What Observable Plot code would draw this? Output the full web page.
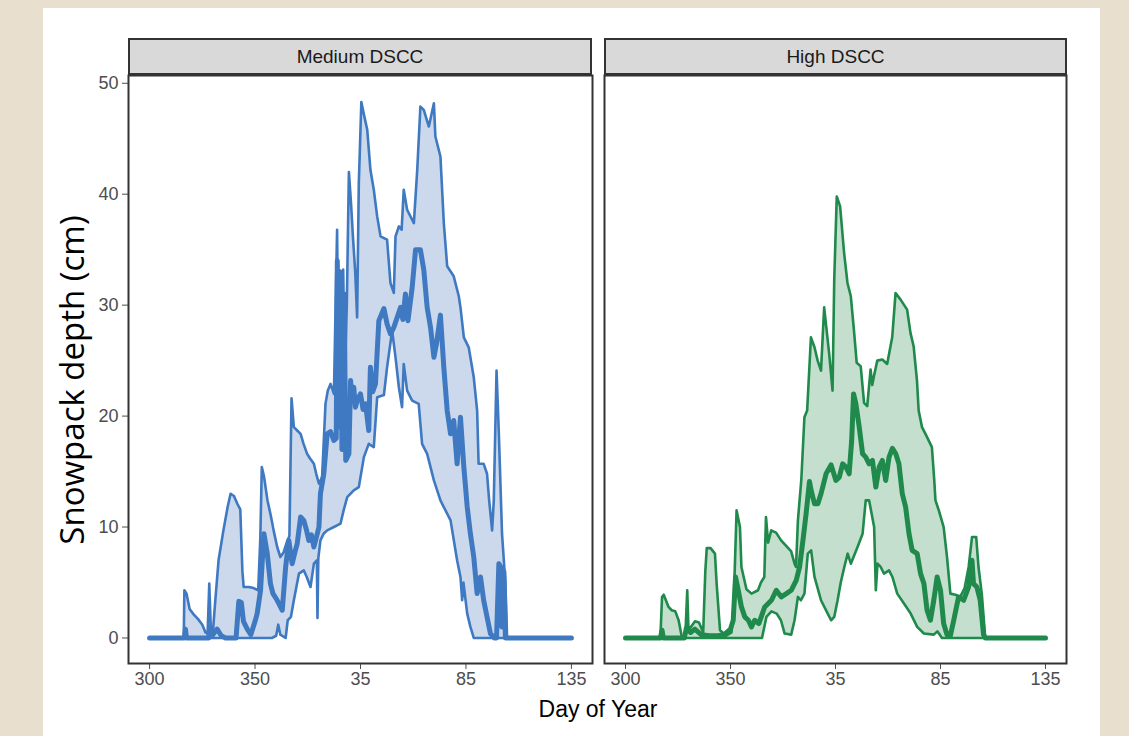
<!DOCTYPE html>
<html>
<head>
<meta charset="utf-8">
<script src="https://cdn.jsdelivr.net/npm/d3@7"></script>
<script src="https://cdn.jsdelivr.net/npm/@observablehq/plot@0.6"></script>
<style>
  html, body { margin: 0; padding: 0; background: #e9dfcf; width: 1129px; height: 736px; overflow: hidden; }
  #card { position: absolute; left: 43px; top: 8px; width: 1057px; height: 740px; background: #fff; }
  .plot { position: absolute; top: 70px; }
  .strip { position: absolute; top: 38px; height: 37px; background: #d9d9d9; border: 2px solid #333; box-sizing: border-box;
           font-family: "Liberation Sans", Arial, sans-serif; font-size: 19px; color: #1a1a1a; text-align: center; line-height: 34px; }
  #ytitle { position: absolute; left: 71px; top: 380px; transform: translate(-50%, -50%) rotate(-90deg); white-space: nowrap;
            font-family: "Open Sans", sans-serif; font-size: 33px; color: #000; }
  #xtitle { position: absolute; left: 598px; top: 709px; transform: translate(-50%, -50%); white-space: nowrap;
            font-family: "Liberation Sans", Arial, sans-serif; font-size: 23px; color: #000; }
</style>
</head>
<body>
<div id="card"></div>
<div class="strip" style="left:128px;width:464px;">Medium DSCC</div>
<div class="strip" style="left:604px;width:463px;">High DSCC</div>
<div id="left" class="plot" style="left:88px;"></div>
<div id="right" class="plot" style="left:599px;"></div>
<div id="ytitle">Snowpack depth (cm)</div>
<div id="xtitle">Day of Year</div>
<script>
// x = days since day-of-year 300 (season day); y = snowpack depth (cm)
const panels = ["Medium DSCC", "High DSCC"];
const tickValues = [0, 50, 100, 150, 200];
const tickLabels = ["300", "350", "35", "85", "135"];
const yTicks = [0, 10, 20, 30, 40, 50];

// Medium DSCC: upper envelope, lower envelope, central (thick) line
const medUpper = [[0,0],[16.2,0],[16.5,4.3],[17.5,4.0],[19,2.6],[21,2.1],[23,1.7],[25,1.2],[26.5,0.5],[27.5,0.4],[28.3,4.9],[29,1.0],[30,0.5],[31,3.0],[32.7,7.0],[35,9.7],[37,11.8],[38.4,13.0],[40,12.8],[41.6,12.1],[43,11.6],[44,6],[44.6,4.6],[47,4.6],[49.3,4.5],[51.5,4.3],[52.5,9],[53.2,15.4],[54.2,14.6],[55.9,12.4],[57.5,11],[58.8,9.7],[60.5,8.2],[62,7.3],[63.5,7.7],[65,8.6],[66.3,9.2],[67.3,21.6],[68.4,19.0],[70,18.7],[71.6,18.4],[73,17.5],[74.7,16.6],[76,16.2],[77.9,15.7],[79,14.8],[80.3,13.9],[81.8,14.5],[83.4,21.1],[84.5,22.3],[85.8,22.9],[87.4,22.0],[88.2,30],[88.9,36.8],[89.5,26],[90.2,33],[91,25],[91.8,33.2],[92.5,23],[93.5,30],[94.5,42.0],[95.5,39.2],[96.5,35.9],[97.5,33],[98.4,28.9],[99.2,41],[100.4,48.3],[101.5,47.3],[103.2,45.8],[104.7,42.2],[106.3,40.4],[107.9,38],[109.5,36.2],[112.6,35.9],[114.2,32],[115.8,31.1],[116.6,36.2],[118.2,37.1],[119.5,36.8],[120.5,40.4],[122.1,38.6],[125.3,37.4],[126.9,42.2],[128.4,47.9],[130,47.6],[132.4,46.1],[134.8,48.2],[135.5,45.2],[137.9,43.4],[139.5,37.4],[141.1,33.5],[144.2,32.6],[146.6,30.8],[147.4,29.8],[149,27.1],[151.3,26.2],[153.7,23.5],[155.3,20.5],[156,15.7],[158.4,15.7],[160,14.8],[161,12.4],[162.4,9.7],[163.2,12.4],[164.5,24.1],[165.6,18.4],[167.1,9.4],[168.7,4.9],[169.5,0],[200,0]];
const medLower = [[0,0],[58,0],[60,0.2],[61,1.2],[62,0.3],[64.5,0],[65.5,1.6],[67,1.9],[68.4,3.4],[70.8,5.8],[73.1,6.1],[74.5,5.5],[76.3,4.6],[77.9,6.7],[79.3,7.0],[79.6,1.8],[80,7.2],[81,8.8],[82.5,9.4],[84.2,9.7],[87.4,10.0],[90.5,10.3],[92,11.5],[93.7,12.7],[96.8,13.3],[99.2,13.6],[101.6,16.3],[103.9,17.5],[106.3,17.2],[107.9,21.7],[111.1,21.9],[112.6,24.4],[115,27.7],[116.6,25.3],[118.2,22.6],[119.7,20.8],[120.5,24.7],[122.1,22.3],[124.5,21.4],[127.6,21.1],[129.2,17.5],[131.6,16.6],[134.8,14.2],[137.9,12.4],[139.5,11.8],[142.7,10.6],[145.8,7.0],[147.4,5.5],[148.2,3.4],[148.8,5.0],[150.6,2.2],[152.1,1.0],[153.7,0],[200,0]];
const medMid = [[0,0],[16.5,0],[17,0.8],[17.5,0],[28,0],[28.5,1.0],[30,0.3],[32,0.8],[34,0.2],[36,0],[41,0],[42.3,3.3],[43.5,3.2],[44.5,1.5],[46.3,0.8],[48,0.3],[50,1.5],[51,2.2],[52.6,4.3],[54.2,9.4],[55,8.5],[55.8,7.6],[57.3,4.9],[58.5,4],[60.5,3.4],[62.9,2.5],[64.5,6.4],[66,8.8],[67.6,6.7],[69,7.8],[70,8.5],[71.6,10.9],[73.1,10.6],[74.3,9.8],[75.5,8.8],[76.7,9.3],[77.9,8.2],[80.3,10.0],[81,13.0],[82.6,14.8],[84.2,18.4],[85.8,18.6],[87.4,17.8],[88.5,18],[89,34],[89.6,19],[90.4,33],[91.2,17],[92.3,31],[93,16],[94.5,16.6],[95.3,23.2],[96,21.5],[96.8,22.6],[97.6,20.8],[98.4,21.4],[100,22],[101.2,20.6],[102.4,21.1],[103.9,18.7],[104.7,24.4],[105.8,22.2],[107.1,22.9],[108.7,28.6],[111.1,29.7],[112.6,28.3],[114.2,27.4],[115.8,28.0],[117.4,28.9],[119,29.8],[120.1,28.7],[121.3,31.0],[122.5,28.6],[124.5,31.6],[126.1,35.0],[128.4,35.0],[130,33.2],[131.6,29.8],[133.2,28.0],[134.8,25.3],[136,26.5],[137.9,29.1],[139.5,24.4],[141.1,20.5],[142.7,18.4],[144.2,19.6],[145.8,15.7],[147.4,19.9],[149,15.4],[150.6,11.8],[152.1,9.4],[153.7,7.3],[155.3,4.0],[156.9,5.5],[158.4,3.4],[160,1.9],[161.6,0.4],[163.5,0],[164.5,0],[165.6,6.7],[166.5,6.4],[167,1],[168,6],[168.7,0],[200,0]];

// High DSCC: upper envelope, lower envelope, central (thick) line
const highUpper = [[0,0],[16.6,0],[17.4,3.7],[18.2,3.9],[20.5,2.8],[22,2.5],[23.7,2.4],[25.3,1.6],[26.8,0.1],[28.5,0.2],[29.4,4.3],[30,0.7],[33.1,1.5],[35,1.4],[37,0.5],[38,6],[38.7,8.1],[40.5,8.1],[42.6,7.6],[43.4,4.9],[45,0.7],[48,0.2],[50.5,0.5],[51.5,3],[52.9,11.5],[54.5,10],[55.2,6.4],[57.6,4.4],[60,4.0],[63.1,4.3],[64.5,5.0],[66.1,5.5],[66.9,10.9],[67.9,8.6],[69.4,9.7],[71.7,9.5],[74.1,8.8],[78.9,7.8],[80.5,6.7],[81.2,6.4],[82.1,10.6],[83.7,14.2],[85.2,19.9],[86.5,20.5],[88.3,27.1],[90,26.2],[91.5,25.0],[93.1,24.1],[94.6,29.8],[97,25.6],[98.6,22.3],[99.4,32.3],[100.6,39.8],[102.2,38.9],[104.1,34.7],[105.7,32],[107.3,30.8],[108.8,27.7],[110.1,24.8],[112,24.5],[113.6,21.2],[115.1,20.9],[116.7,24.2],[117.5,22.8],[118.3,23.6],[119.9,25.0],[122.3,25.1],[124.6,24.7],[127,27.1],[128.6,31.1],[131,30.5],[134.1,29.6],[135.7,27.5],[137.2,26.3],[138.8,23.2],[139.6,20.5],[141.2,19.0],[143.6,18.1],[145.9,17.2],[147,14.3],[147.6,12.4],[149.2,11.5],[151.5,10],[153.1,7.3],[154.7,4.0],[157.1,3.9],[159.4,3.7],[161.5,4.5],[163.4,6.4],[165,9.1],[167,9.1],[168.1,6.4],[169.7,3.9],[171.3,0],[200,0]];
const highLower = [[0,0],[65,0],[67.1,1.9],[69.5,2.4],[72,2.2],[74,1.6],[75.8,0.4],[78.9,0.3],[80.5,1.6],[82.1,3.7],[83.5,3.4],[85.2,4.0],[86.8,7.6],[88.4,7.9],[90,5.5],[93.1,3.4],[96.3,2.2],[97.9,1.6],[99.4,1.9],[101,3.4],[102.5,5],[104.2,6.4],[105.8,7.6],[107.3,6.7],[110.5,8.2],[112.9,9.4],[114.4,12.4],[116,12.4],[118.4,10],[119.2,4.3],[120,6.7],[121.5,6.4],[123.1,5.8],[125.5,6.1],[127.1,5.5],[129.4,4.0],[132.6,3.1],[135.8,2.2],[138.9,1.0],[142.1,0.4],[146.8,0.3],[148.5,0.6],[150.7,0],[200,0]];
const highMid = [[0,0],[16.6,0],[17.4,0.7],[18,0],[28,0],[29,0.9],[31,0.5],[33,0.8],[36,0.3],[40,0.2],[44,0.2],[47,0.3],[50,0.8],[51.3,1.6],[52.4,5.5],[53.7,4.3],[55.2,2.8],[56.8,1.9],[58.5,1.6],[60,1.0],[61.5,1.6],[63.5,1.3],[66.3,2.8],[69.5,3.4],[71.8,4.3],[74.2,3.7],[76.6,4.0],[78.9,4.3],[81.3,5.2],[82.9,6.4],[84.5,8.8],[86,11.2],[87.6,14.1],[88.4,13.3],[90,12.1],[91.6,12.1],[93.1,13.0],[95.5,14.8],[97.9,15.6],[100.2,14.2],[101.8,14.5],[103.4,15.7],[105,15.4],[106.5,14.8],[107.7,17.8],[108.6,22.0],[109.7,21.1],[111.3,19.0],[112.9,16.6],[114.4,16.3],[116,15.7],[117.6,16.0],[119.2,13.6],[120.8,15.4],[122.3,16.0],[123.9,14.2],[125.5,16.3],[127.1,17.1],[128.7,16.6],[130.2,15.7],[131.8,13.0],[133.4,11.8],[135,9.4],[136.5,7.9],[138.9,7.6],[140.5,5.8],[142.1,4.9],[143.6,2.5],[145.2,1.6],[146.8,3.4],[148.4,5.5],[150,4.3],[151.5,1.3],[153.1,0.3],[154.7,0.2],[156.3,1.6],[158.6,3.7],[161,3.4],[163.4,4.6],[165,7.0],[165.7,4.9],[167.3,4.6],[168.9,3.4],[170.5,0.3],[171.3,0],[200,0]];

const lineColors = ["#3f79c1", "#1f8a4c"];
const fillColors = ["#ccd9ec", "#c4dfcd"];

const labelOf = new Map(tickValues.map((v, i) => [v, tickLabels[i]]));

function panel(upper, lower, mid, k, showY) {
  const band = [...upper, ...lower.slice().reverse()];
  return Plot.plot({
    width: showY ? 509 : 472,
    height: 623,
    marginLeft: showY ? 40 : 5,
    marginRight: 5,
    marginTop: 5,
    marginBottom: 30,
    style: { fontFamily: "'Liberation Sans', Arial, sans-serif", fontSize: "18px", color: "#4d4d4d", background: "transparent", overflow: "visible" },
    x: { domain: [-10, 210], ticks: tickValues, tickFormat: d => labelOf.get(d), label: null, tickSize: 6, tickPadding: 3 },
    y: showY ? { domain: [-2.3, 50.7], ticks: yTicks, label: null, tickSize: 6, tickPadding: 4 } : { domain: [-2.3, 50.7], axis: null },
    marks: [
      Plot.line(band, { x: d => d[0], y: d => d[1], fill: fillColors[k], stroke: "none" }),
      Plot.line(lower, { x: d => d[0], y: d => d[1], stroke: lineColors[k], strokeWidth: 2.6 }),
      Plot.line(upper, { x: d => d[0], y: d => d[1], stroke: lineColors[k], strokeWidth: 2.6 }),
      Plot.line(mid, { x: d => d[0], y: d => d[1], stroke: lineColors[k], strokeWidth: 5, strokeLinejoin: "round" }),
      Plot.frame({ stroke: "#333", strokeWidth: 2 })
    ]
  });
}

document.getElementById("left").append(panel(medUpper, medLower, medMid, 0, true));
document.getElementById("right").append(panel(highUpper, highLower, highMid, 1, false));
</script>
</body>
</html>
